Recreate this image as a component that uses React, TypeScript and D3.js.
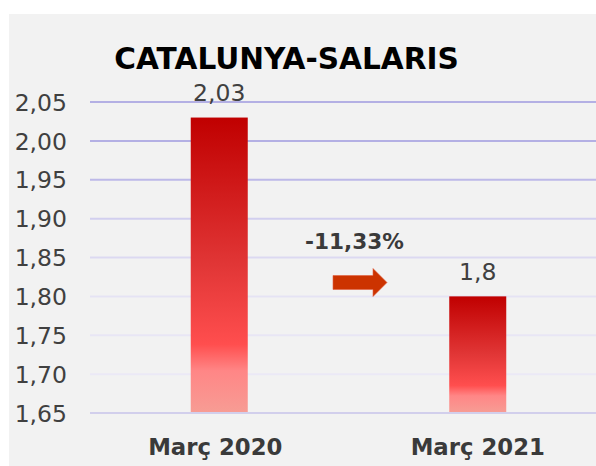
import React from "react";
import * as d3 from "d3";

const title = "CATALUNYA-SALARIS";
const categories = ["Març 2020", "Març 2021"];
const values = [2.03, 1.8];
const valueLabels = ["2,03", "1,8"];
const yTicks = [1.65, 1.7, 1.75, 1.8, 1.85, 1.9, 1.95, 2.0, 2.05];
const changeLabel = "-11,33%";

const gridColors = ["#d2cfec", "#ebe9f6", "#e8e6f5", "#e5e3f4", "#dcd9f1", "#d2cfef", "#bdb9e8", "#b4b0e4", "#b4b0e4"];

const REG = "'DejaVu Sans', sans-serif";

export default function App() {
  const W = 596, H = 466;
  const y = d3.scaleLinear().domain([1.65, 2.05]).range([413, 102]);
  const x = d3.scaleBand<string>().domain(categories).range([90, 607]).padding(0);
  const barW = 57;
  const fmt = (v: number) => d3.format(".2f")(v).replace(".", ",");

  const c0 = x(categories[0])! + x.bandwidth() / 2;
  const c1 = x(categories[1])! + x.bandwidth() / 2;
  const arrowX0 = 333, arrowX1 = 387, arrowHeadX = 373;
  const arrowMidY = 282.5;

  return (
    <svg width={W} height={H} style={{ position: "absolute", left: 0, top: 0 }}>
      <defs>
        <linearGradient id="barGrad" x1="0" y1="0" x2="0" y2="1">
          <stop offset="0" stopColor="#c00000" />
          <stop offset="0.5" stopColor="#e13636" />
          <stop offset="0.77" stopColor="#ff4e4e" />
          <stop offset="0.86" stopColor="#ff8686" />
          <stop offset="1" stopColor="#f79c94" />
        </linearGradient>
      </defs>
      <rect x={9} y={14} width={W - 9} height={H - 14} fill="#f2f2f2" />
      <text x={286.6} y={68.6} textAnchor="middle" fontFamily={REG} fontWeight="bold" fontSize={29.6} fill="#000">
        {title}
      </text>
      {yTicks.map((t, i) => (
        <g key={t}>
          <line x1={90} x2={W} y1={y(t)} y2={y(t)} stroke={gridColors[i]} strokeWidth={2} />
          <text x={67} y={y(t) + 8.7} textAnchor="end" fontFamily={REG} fontSize={23.5} fill="#404040">
            {fmt(t)}
          </text>
        </g>
      ))}
      {categories.map((c, i) => {
        const cx = x(c)! + x.bandwidth() / 2;
        return (
          <g key={c}>
            <rect x={cx - barW / 2} y={y(values[i])} width={barW} height={y(1.65) - y(values[i]) - 1} fill="url(#barGrad)" />
            <text x={cx} y={y(values[i]) - 16.5} textAnchor="middle" fontFamily={REG} fontSize={23.5} fill="#404040">
              {valueLabels[i]}
            </text>
            <text x={cx - (i === 0 ? 4 : 0)} y={455} textAnchor="middle" fontFamily={REG} fontWeight="bold" fontSize={22.8} fill="#3a3a3a">
              {c}
            </text>
          </g>
        );
      })}
      <text x={(c0 + c1) / 2 + 6} y={249} textAnchor="middle" fontFamily={REG} fontWeight="bold" fontSize={21.6} fill="#3a3a3a">
        {changeLabel}
      </text>
      <path
        d={`M${arrowX0},${arrowMidY - 7} L${arrowHeadX},${arrowMidY - 7} L${arrowHeadX},${arrowMidY - 14} L${arrowX1},${arrowMidY} L${arrowHeadX},${arrowMidY + 14} L${arrowHeadX},${arrowMidY + 7} L${arrowX0},${arrowMidY + 7} Z`}
        fill="#cc3300"
        stroke="#e06040"
        strokeWidth={0.6}
      />
    </svg>
  );
}
